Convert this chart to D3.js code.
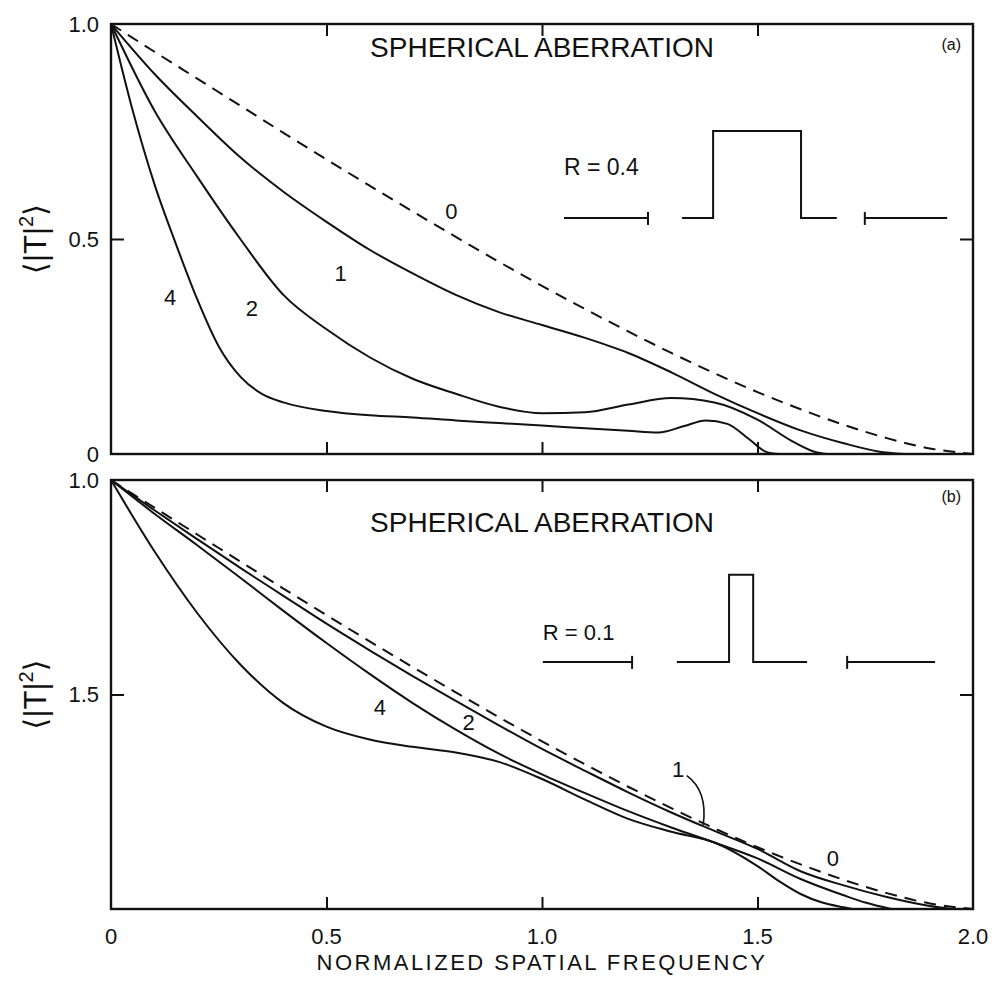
<!DOCTYPE html>
<html>
<head>
<meta charset="utf-8">
<script src="https://cdn.jsdelivr.net/npm/d3@7"></script>
<style>
  body { margin: 0; background: #fff; }
  svg text { font-family: "Liberation Sans", "DejaVu Sans", sans-serif; fill: #111; }
</style>
</head>
<body>
<div id="chart"></div>
<script>
// normalized spatial frequency samples
const curveA0 = [[0,1],[0.1,0.936],[0.2,0.873],[0.3,0.81],[0.4,0.747],[0.5,0.685],[0.6,0.624],[0.7,0.564],[0.8,0.505],[0.9,0.447],[1.0,0.391],[1.1,0.337],[1.2,0.285],[1.3,0.235],[1.4,0.188],[1.5,0.144],[1.6,0.104],[1.7,0.068],[1.8,0.037],[1.9,0.013],[2.0,0]];
const curveA1 = [[0,1],[0.1,0.885],[0.2,0.785],[0.3,0.69],[0.4,0.61],[0.5,0.54],[0.6,0.475],[0.7,0.42],[0.8,0.37],[0.9,0.33],[1.0,0.30],[1.1,0.27],[1.2,0.235],[1.3,0.19],[1.4,0.14],[1.5,0.095],[1.6,0.055],[1.7,0.025],[1.78,0.006],[1.84,0]];
const curveA2 = [[0,1],[0.1,0.80],[0.2,0.645],[0.3,0.50],[0.4,0.37],[0.5,0.29],[0.6,0.225],[0.7,0.175],[0.8,0.14],[0.9,0.11],[1.0,0.095],[1.1,0.097],[1.2,0.115],[1.3,0.13],[1.4,0.12],[1.5,0.08],[1.58,0.03],[1.63,0.006],[1.66,0]];
const curveA4 = [[0,1],[0.05,0.80],[0.1,0.63],[0.15,0.49],[0.2,0.36],[0.25,0.25],[0.3,0.18],[0.35,0.14],[0.4,0.12],[0.5,0.10],[0.6,0.09],[0.7,0.085],[0.8,0.078],[0.9,0.072],[1.0,0.066],[1.1,0.06],[1.2,0.054],[1.27,0.05],[1.33,0.065],[1.38,0.078],[1.43,0.07],[1.48,0.035],[1.52,0.005],[1.55,0]];

const curveB0 = curveA0;
const curveB1 = [[0,1],[0.1,0.93],[0.2,0.862],[0.3,0.795],[0.4,0.73],[0.5,0.665],[0.6,0.603],[0.7,0.543],[0.8,0.485],[0.9,0.428],[1.0,0.373],[1.1,0.322],[1.2,0.272],[1.3,0.225],[1.4,0.182],[1.5,0.14],[1.6,0.088],[1.7,0.055],[1.8,0.028],[1.9,0.007],[1.95,0]];
const curveB2 = [[0,1],[0.1,0.922],[0.2,0.848],[0.3,0.772],[0.4,0.695],[0.5,0.62],[0.6,0.548],[0.7,0.48],[0.8,0.418],[0.9,0.362],[1.0,0.314],[1.1,0.27],[1.2,0.228],[1.3,0.19],[1.4,0.155],[1.5,0.118],[1.6,0.07],[1.7,0.032],[1.75,0.015],[1.81,0]];
const curveB4 = [[0,1],[0.1,0.835],[0.2,0.69],[0.3,0.57],[0.4,0.48],[0.5,0.425],[0.6,0.395],[0.7,0.378],[0.8,0.365],[0.9,0.343],[1.0,0.303],[1.1,0.255],[1.2,0.21],[1.3,0.18],[1.4,0.155],[1.5,0.10],[1.55,0.065],[1.6,0.035],[1.65,0.015],[1.7,0.004],[1.72,0]];

// pupil sketches (schematic inset), in data units of each panel
const insetA = [[1.325,0.549],[1.397,0.549],[1.397,0.751],[1.601,0.751],[1.601,0.549],[1.684,0.549]];
const insetAbars = [[1.051,1.246],[1.749,1.94]];   // [start, end]; tick at the inner end
const insetB = [[1.313,0.576],[1.434,0.576],[1.434,0.779],[1.49,0.779],[1.49,0.576],[1.615,0.576]];
const insetBbars = [[1.002,1.209],[1.708,1.912]];

const xTicks = [0, 0.5, 1.0, 1.5, 2.0];
const xTickLabels = ["0", "0.5", "1.0", "1.5", "2.0"];
const yTicksA = [0, 0.5, 1.0];
const yTickLabelsA = ["0", "0.5", "1.0"];
const yTicksB = [0.5, 1.0];
const yTickLabelsB = ["1.5", "1.0"];

const labelsA = [{t:"0",x:0.79,y:0.565},{t:"1",x:0.533,y:0.42},{t:"2",x:0.327,y:0.34},{t:"4",x:0.137,y:0.365}];
const labelsB = [{t:"4",x:0.624,y:0.47},{t:"2",x:0.83,y:0.435},{t:"1",x:1.316,y:0.325},{t:"0",x:1.675,y:0.118}];

const width = 994, height = 982;
const svg = d3.select('#chart').append('svg')
    .attr('width', width)
    .attr('height', height);

const x = d3.scaleLinear().domain([0, 2]).range([111, 973]);
const yA = d3.scaleLinear().domain([0, 1]).range([454, 24]);
const yB = d3.scaleLinear().domain([0, 1]).range([909, 480]);

function drawPanel(y, opts) {
    const g = svg.append('g');
    const [y0, y1] = y.range();

    // frame
    g.append('rect')
        .attr('x', x(0)).attr('y', y1)
        .attr('width', x(2) - x(0)).attr('height', y0 - y1)
        .attr('fill', 'none').attr('stroke', '#111').attr('stroke-width', 2.4);

    // inward ticks
    const inner = [0.5, 1.0, 1.5];
    g.append('g').attr('transform', `translate(0,${y0})`)
        .call(d3.axisBottom(x).tickValues(inner).tickSize(-12).tickFormat(''));
    g.append('g').attr('transform', `translate(0,${y1})`)
        .call(d3.axisTop(x).tickValues(inner).tickSize(-12).tickFormat(''));
    g.append('g').attr('transform', `translate(${x(0)},0)`)
        .call(d3.axisLeft(y).tickValues([0.5]).tickSize(-13).tickFormat(''));
    g.append('g').attr('transform', `translate(${x(2)},0)`)
        .call(d3.axisRight(y).tickValues([0.5]).tickSize(-13).tickFormat(''));
    g.selectAll('.domain').remove();
    g.selectAll('.tick line').attr('stroke', '#111').attr('stroke-width', 2);

    // y tick labels
    g.selectAll('text.ylab')
        .data(opts.yTicks)
        .join('text')
        .attr('class', 'ylab')
        .attr('x', x(0) - 12)
        .attr('y', d => y(d))
        .attr('dy', '0.36em')
        .attr('text-anchor', 'end')
        .attr('font-size', 22)
        .text((d, i) => opts.yLabels[i]);

    // y axis title <|T|^2>
    const yt = g.append('text')
        .attr('transform', `translate(46,${y(0.5)}) rotate(-90)`)
        .attr('text-anchor', 'middle')
        .attr('font-size', 31);
    yt.append('tspan').text('\u27E8|T|');
    yt.append('tspan').attr('font-size', 20).attr('dy', -13).text('2');
    yt.append('tspan').attr('dy', 13).text('\u27E9');

    // curves
    const line = d3.line()
        .x(d => x(d[0]))
        .y(d => y(d[1]))
        .curve(d3.curveMonotoneX);

    opts.curves.forEach((c, i) => {
        g.append('path')
            .datum(c)
            .attr('d', line)
            .attr('fill', 'none')
            .attr('stroke', '#111')
            .attr('stroke-width', 2)
            .attr('stroke-dasharray', i === 0 ? '12,8' : null);
    });

    // curve labels
    g.selectAll('text.clab')
        .data(opts.labels)
        .join('text')
        .attr('class', 'clab')
        .attr('x', d => x(d.x))
        .attr('y', d => y(d.y))
        .attr('dy', '0.36em')
        .attr('text-anchor', 'middle')
        .attr('font-size', 22)
        .text(d => d.t);

    // title and panel tag
    g.append('text')
        .attr('x', x(1))
        .attr('y', y1 + opts.titleDrop)
        .attr('text-anchor', 'middle')
        .attr('font-size', 28)
        .text('SPHERICAL ABERRATION');
    g.append('text')
        .attr('x', x(2) - 12)
        .attr('y', y1 + opts.tagDrop)
        .attr('text-anchor', 'end')
        .attr('font-size', 16)
        .text(opts.tag);

    // inset pupil sketch
    const flat = d3.line().x(d => x(d[0])).y(d => y(d[1]));
    g.append('path')
        .datum(opts.inset)
        .attr('d', flat)
        .attr('fill', 'none')
        .attr('stroke', '#111')
        .attr('stroke-width', 2);
    const base = opts.inset[0][1];
    opts.bars.forEach(b => {
        g.append('line')
            .attr('x1', x(b[0])).attr('x2', x(b[1]))
            .attr('y1', y(base)).attr('y2', y(base))
            .attr('stroke', '#111').attr('stroke-width', 2);
        const tx = b[0] < opts.inset[0][0] ? b[1] : b[0];
        g.append('line')
            .attr('x1', x(tx)).attr('x2', x(tx))
            .attr('y1', y(base) - 6).attr('y2', y(base) + 7)
            .attr('stroke', '#111').attr('stroke-width', 2);
    });
    g.append('text')
        .attr('x', x(opts.bars[0][0]))
        .attr('y', y(base) - opts.rLift)
        .attr('font-size', opts.rSize)
        .text(opts.rText);

    return g;
}

drawPanel(yA, {
    curves: [curveA0, curveA1, curveA2, curveA4],
    inset: insetA, bars: insetAbars, rText: 'R = 0.4', rSize: 23, rLift: 43,
    tag: '(a)', tagDrop: 26, titleDrop: 33,
    labels: labelsA, yTicks: yTicksA, yLabels: yTickLabelsA
});
const gB = drawPanel(yB, {
    curves: [curveB0, curveB1, curveB2, curveB4],
    inset: insetB, bars: insetBbars, rText: 'R = 0.1', rSize: 22, rLift: 22,
    tag: '(b)', tagDrop: 22, titleDrop: 52,
    labels: labelsB, yTicks: yTicksB, yLabels: yTickLabelsB
});

// leader for label "1" in panel (b)
const leader = d3.path();
leader.moveTo(x(1.336), yB(0.311));
leader.quadraticCurveTo(x(1.385), yB(0.275), x(1.374), yB(0.196));
gB.append('path').attr('d', leader.toString())
    .attr('fill', 'none').attr('stroke', '#111').attr('stroke-width', 1.6);

// x tick labels under panel (b)
svg.selectAll('text.xlab')
    .data(xTicks)
    .join('text')
    .attr('class', 'xlab')
    .attr('x', d => x(d))
    .attr('y', 936)
    .attr('dy', '0.36em')
    .attr('text-anchor', 'middle')
    .attr('font-size', 22)
    .text((d, i) => xTickLabels[i]);

svg.append('text')
    .attr('x', x(1))
    .attr('y', 962)
    .attr('dy', '0.36em')
    .attr('text-anchor', 'middle')
    .attr('font-size', 22)
    .attr('letter-spacing', 2.5)
    .text('NORMALIZED SPATIAL FREQUENCY');
</script>
</body>
</html>
